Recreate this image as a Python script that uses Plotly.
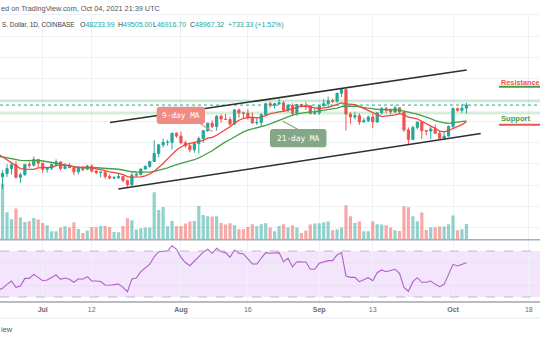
import plotly.graph_objects as go
import pandas as pd

# ---------------- data (Jun 21 2021 .. Oct 04 2021, daily) ----------------
dates = pd.date_range("2021-06-21", "2021-10-04", freq="D")

opens = [35600, 31700, 32500, 33700, 34600, 31600, 32200, 34700, 34500, 35900,
         35000, 33500, 33800, 34700, 35300, 33700, 34200, 33900, 32900, 33800,
         33500, 34300, 33100, 32700, 32800, 31800, 31400, 31500, 31800, 30800,
         29800, 32100, 32300, 33600, 34200, 35400, 37300, 39400, 40000, 40010,
         42200, 41500, 39900, 39200, 38200, 39700, 40900, 42800, 44600, 43800,
         46300, 45600, 45500, 44400, 47800, 47100, 47000, 46000, 44700, 44800,
         46700, 49300, 48900, 49300, 49500, 47700, 48900, 47000, 49100, 48900,
         48800, 46900, 47100, 48800, 49300, 50000, 49900, 51800, 52700, 46800,
         46100, 46400, 44900, 45200, 46100, 44900, 47100, 48100, 47700, 47300,
         48300, 47300, 43000, 40700, 43600, 44900, 42800, 42700, 43200, 42200,
         41000, 41500, 43800, 48100, 47700, 48233.99]
highs = [35700, 33300, 34800, 35200, 35500, 32700, 34700, 35300, 36600, 36000,
         35000, 33900, 34900, 35900, 35300, 35000, 35000, 33900, 34100, 34300,
         34600, 34700, 33300, 33100, 33200, 32300, 31900, 32400, 31900, 31000,
         32800, 32600, 33600, 34500, 35400, 40500, 39500, 40900, 40600, 42300,
         42400, 42600, 40400, 39800, 39900, 41400, 43000, 44700, 45300, 46500,
         46700, 46800, 46200, 48000, 48100, 47400, 48000, 47200, 46000, 47000,
         49400, 49800, 49500, 50500, 49900, 49300, 49400, 49200, 49300, 49700,
         48900, 48200, 49000, 50400, 51000, 50500, 51900, 52800, 52920, 47300,
         47400, 47000, 45900, 46400, 46900, 47300, 48500, 48500, 48200, 48800,
         48400, 47400, 43600, 44000, 44900, 45000, 42900, 43900, 44300, 42800,
         42600, 44100, 48400, 48400, 49300, 49505.00]
lows = [31300, 28800, 31700, 32300, 31300, 30200, 32000, 33900, 34200, 34000,
        32700, 32700, 33300, 34400, 33200, 33500, 33800, 32100, 32300, 33000,
        33400, 32700, 32300, 31600, 31200, 31100, 31200, 31200, 30400, 29300,
        29500, 31700, 32000, 33400, 33900, 35300, 36400, 38800, 39200, 38300,
        41100, 39500, 38700, 37600, 37500, 37300, 39900, 42500, 43400, 42800,
        44700, 45400, 43800, 44200, 45900, 45600, 45500, 44400, 44200, 43900,
        46600, 48300, 48100, 49000, 47600, 47200, 46300, 46400, 48400, 47800,
        46900, 46700, 46600, 48600, 48400, 49500, 49500, 50900, 42800, 44400,
        45500, 44200, 44800, 44800, 43400, 44700, 46700, 47000, 46800, 47100,
        46900, 42500, 39600, 40600, 43100, 40800, 41700, 40800, 42100, 40900,
        40800, 41400, 43300, 47400, 47100, 46916.70]
closes = [31700, 32500, 33700, 34600, 31600, 32200, 34700, 34500, 35900, 35000,
          33500, 33800, 34700, 35300, 33700, 34200, 33900, 32900, 33800, 33500,
          34300, 33100, 32700, 32800, 31800, 31400, 31500, 31800, 30800, 29800,
          32100, 32300, 33600, 34200, 35400, 37300, 39400, 40000, 40010, 42200,
          41500, 39900, 39200, 38200, 39700, 40900, 42800, 44600, 43800, 46300,
          45600, 45500, 44400, 47800, 47100, 47000, 46000, 44700, 44800, 46700,
          49300, 48900, 49300, 49500, 47700, 48900, 47000, 49100, 48900, 48800,
          46900, 47100, 48800, 49300, 50000, 49900, 51800, 52700, 46800, 46100,
          46400, 44900, 45200, 46100, 44900, 47100, 48100, 47700, 47300, 48300,
          47300, 43000, 40700, 43600, 44900, 42800, 42700, 43200, 42200, 41000,
          41500, 43800, 48100, 47700, 48200, 48967.32]
# closes Jun 01 .. Jun 20 (off-screen, only feed the moving averages)
closes_before = [36700, 37600, 39200, 36900, 35500, 35800, 33600, 33400, 37400, 36700,
                 37300, 35600, 39000, 40500, 40200, 38300, 38100, 35800, 35500, 35600]
volumes = [20000, 28000, 13650, 10150, 15500, 11000, 8800, 9150, 10800, 10000,
           8300, 7150, 4150, 4150, 6000, 6650, 6000, 8650, 5300, 3300,
           4500, 6300, 6150, 6800, 6800, 6300, 3800, 3650, 6800, 10650,
           9650, 5000, 5650, 6000, 6000, 23650, 14800, 16300, 6650, 9300,
           6650, 6800, 8000, 9000, 9300, 16800, 12300, 11650, 11500, 11650,
           8300, 7500, 8150, 7150, 5150, 5150, 6300, 7650, 6650, 7650,
           8150, 6000, 4150, 6800, 7650, 6000, 7150, 6000, 3300, 4500,
           7500, 8000, 8150, 8650, 9000, 4650, 5150, 6000, 17150, 11650,
           8300, 9000, 4150, 4150, 9150, 7650, 7500, 7150, 6000, 4650,
           4300, 16650, 16150, 11650, 9150, 13500, 4800, 6150, 6150, 6500,
           6500, 7650, 12000, 4650, 5150, 7800]
rsi = [36, 37.5, 41, 43.9, 38.4, 39.6, 46.2, 46.2, 49.7, 47.1,
       44.2, 44.8, 47, 49.1, 45.4, 46.5, 45.4, 42.8, 45.9, 45.4,
       47.7, 43.9, 43.9, 43.5, 40.4, 40.2, 40.8, 41.3, 38.4, 34.6,
       45.7, 46.5, 52, 54.9, 58.5, 65, 69.4, 69.8, 70, 74.6,
       71.5, 64.5, 60, 57.2, 61, 65.7, 69, 71.5, 68, 72.3,
       69.4, 68.6, 64.5, 70.9, 68, 67.4, 63, 58.7, 58.7, 64,
       68.6, 68, 68.3, 68.6, 60.7, 63.7, 56.3, 60.7, 60.5, 60.4,
       54.1, 54.1, 59.3, 60.5, 61.6, 61.6, 66.5, 68.6, 48.3, 47.1,
       47.1, 43.3, 44.8, 46.8, 44.2, 51.1, 53.5, 52, 53, 54.1,
       50.6, 38.4, 35, 43.3, 46.8, 42.8, 42.8, 43.9, 41, 39,
       41, 49.1, 58.4, 57, 58.3, 59.8]

tick_dates = ["2021-07-01", "2021-07-12", "2021-08-01", "2021-08-16",
              "2021-09-01", "2021-09-13", "2021-10-01", "2021-10-18"]
tick_text = ["<b>Jul</b>", "12", "<b>Aug</b>", "16", "<b>Sep</b>", "13", "<b>Oct</b>", "18"]

# drawn trend channel (date, price) and horizontal levels
channel_upper = [("2021-07-16 02:10", 44760), ("2021-10-04 01:40", 57384)]
channel_lower = [("2021-07-17 22:50", 28752), ("2021-10-07 05:00", 42120)]
resistance_level = 49950
support_level = 47060
last_price = 48967.32

# ---------------- derived ----------------
all_closes = pd.Series(closes_before + closes)
n_before = len(closes_before)
ma9 = all_closes.rolling(9).mean().iloc[n_before:].tolist()
ma21 = all_closes.rolling(21).mean().iloc[n_before:].tolist()

UP, DOWN = "#26a69a", "#ef5350"
vol_colors = ["rgba(38,166,154,0.5)" if c >= o else "rgba(239,83,80,0.5)"
              for o, c in zip(opens, closes)]

W, H = 540, 340
def X(px): return px / W
def Y(py): return 1 - py / H

FONT = "Liberation Sans"
x_range = ["2021-06-21 10:13", "2021-10-20 12:00"]
price_dom = [Y(239.5), Y(14.5)]
rsi_dom = [Y(302), Y(240.5)]

fig = go.Figure()
fig.add_trace(go.Bar(x=dates, y=volumes, marker_color=vol_colors, marker_line_width=0,
                     width=0.72 * 86400000, xaxis="x", yaxis="y", hoverinfo="skip"))
fig.add_trace(go.Candlestick(x=dates, open=opens, high=highs, low=lows, close=closes,
                             increasing=dict(line=dict(color=UP, width=1), fillcolor=UP),
                             decreasing=dict(line=dict(color=DOWN, width=1), fillcolor=DOWN),
                             whiskerwidth=0, xaxis="x", yaxis="y2"))
fig.add_trace(go.Scatter(x=dates, y=ma21, mode="lines", line=dict(color="#43a047", width=1.3),
                         xaxis="x", yaxis="y2"))
fig.add_trace(go.Scatter(x=dates, y=ma9, mode="lines", line=dict(color="#f44336", width=1.3),
                         xaxis="x", yaxis="y2"))
fig.add_trace(go.Scatter(x=dates, y=rsi, mode="lines", line=dict(color="#b35fcb", width=1.1),
                         xaxis="x2", yaxis="y3"))

shapes = []
# RSI band and its dashed bounds
shapes.append(dict(type="rect", xref="paper", yref="y3", x0=0, x1=1, y0=30, y1=70,
                   fillcolor="#f3e6fc", line=dict(width=0), layer="below"))
for lv in (70, 30):
    shapes.append(dict(type="line", xref="paper", yref="y3", x0=0, x1=1, y0=lv, y1=lv,
                       line=dict(color="#c4b3d3", width=1, dash="dash")))
# horizontal levels
for lv in (resistance_level, support_level):
    shapes.append(dict(type="line", xref="paper", yref="y2", x0=0, x1=1, y0=lv, y1=lv,
                       line=dict(color="rgba(76,175,80,0.22)", width=3)))
shapes.append(dict(type="line", xref="paper", yref="y2", x0=0, x1=1, y0=last_price, y1=last_price,
                   line=dict(color=UP, width=1, dash="dot")))
# channel
for (a, b) in (channel_upper, channel_lower):
    shapes.append(dict(type="line", xref="x", yref="y2", x0=a[0], y0=a[1], x1=b[0], y1=b[1],
                       line=dict(color="#2f2f2f", width=1.5)))
# pane borders
shapes.append(dict(type="line", xref="paper", yref="paper", x0=0, x1=1, y0=Y(239.8), y1=Y(239.8),
                   line=dict(color="#a9acb4", width=1.6)))
shapes.append(dict(type="line", xref="paper", yref="paper", x0=0, x1=1, y0=Y(302), y1=Y(302),
                   line=dict(color="#a3a6ae", width=1.6)))
shapes.append(dict(type="line", xref="paper", yref="paper", x0=0, x1=1, y0=Y(318), y1=Y(318),
                   line=dict(color="#eef0f4", width=1.5)))
shapes.append(dict(type="line", xref="paper", yref="paper", x0=0, x1=1, y0=Y(14.5), y1=Y(14.5),
                   line=dict(color="#eef1f6", width=1)))
# resistance / support marker lines
shapes.append(dict(type="line", xref="paper", yref="paper", x0=X(499), x1=1, y0=Y(86.7), y1=Y(86.7),
                   line=dict(color="#43a047", width=2)))
shapes.append(dict(type="line", xref="paper", yref="paper", x0=X(499), x1=1, y0=Y(124.7), y1=Y(124.7),
                   line=dict(color="#ef5350", width=2)))

def rrect(x0, y0, x1, y1, r, color):
    p = (f"M {X(x0+r)},{Y(y0)} L {X(x1-r)},{Y(y0)} Q {X(x1)},{Y(y0)} {X(x1)},{Y(y0+r)} "
         f"L {X(x1)},{Y(y1-r)} Q {X(x1)},{Y(y1)} {X(x1-r)},{Y(y1)} "
         f"L {X(x0+r)},{Y(y1)} Q {X(x0)},{Y(y1)} {X(x0)},{Y(y1-r)} "
         f"L {X(x0)},{Y(y0+r)} Q {X(x0)},{Y(y0)} {X(x0+r)},{Y(y0)} Z")
    return dict(type="path", xref="paper", yref="paper", path=p, fillcolor=color,
                line=dict(width=0))

C9, C21 = "#f08b84", "#84a887"
shapes.append(dict(type="line", xref="paper", yref="paper", x0=X(199), y0=Y(123), x1=X(212.5), y1=Y(131.5),
                   line=dict(color=C9, width=1.2)))
shapes.append(rrect(156.7, 106.7, 205, 124, 3, C9))
shapes.append(dict(type="line", xref="paper", yref="paper", x0=X(299), y0=Y(130), x1=X(282.5), y1=Y(121),
                   line=dict(color=C21, width=1.2)))
shapes.append(rrect(270, 129, 326.5, 147.3, 3, C21))

annotations = []
def txt(x, y, s, size=7, color="#4a4a4a", anchor="left", family=FONT):
    annotations.append(dict(x=X(x), y=Y(y), xref="paper", yref="paper", text=s, showarrow=False,
                            xanchor=anchor, yanchor="middle", borderpad=0,
                            font=dict(family=family, size=size, color=color)))

# texts as visible in the (cropped) reference
txt(0, 8, "ed on TradingView.com, Oct 04, 2021 21:39 UTC", size=7.3, color="#50535e")
txt(0.5, 25, "S. Dollar, 1D, COINBASE", size=6.4, color="#3a3d46")
TEAL = "#26a69a"
for x, lab, val in ((78.7, "O", "48233.99"), (116.7, "H", "49505.00"),
                    (152.3, "L", "46916.70"), (189, "C", "48967.32")):
    txt(x, 25, f"{lab}<span style='color:{TEAL}'>{val}</span>", color="#3a3d46")
txt(227, 25, "+733.33", color=TEAL)
txt(254, 25, "(+1.52%)", color=TEAL)

txt(180.8, 115.5, "9-day MA", size=7.8, color="white", anchor="center", family="DejaVu Sans Mono")
txt(298.2, 138.3, "21-day MA", size=7.8, color="white", anchor="center", family="DejaVu Sans Mono")
txt(499.5, 82.3, "<b>Resistance</b>", size=7.3, color="#ef5350")
txt(499.5, 119, "<b>Support</b>", size=7.6, color="#43a047")
txt(0, 329, "iew", size=7.5, color="#50535e")

GRID = "#eef1f6"
fig.update_layout(
    width=W, height=H, margin=dict(l=0, r=0, t=0, b=0),
    paper_bgcolor="white", plot_bgcolor="white", showlegend=False,
    font=dict(family=FONT),
    xaxis=dict(domain=[0, 1], anchor="y", type="date", range=x_range, tickvals=tick_dates,
               showticklabels=False, showgrid=True, gridcolor=GRID, zeroline=False,
               rangeslider=dict(visible=False), fixedrange=True),
    yaxis=dict(domain=price_dom, range=[0, 112750], showgrid=False, showticklabels=False,
               zeroline=False),
    yaxis2=dict(overlaying="y", anchor="x", range=[16632, 70752], showgrid=True, gridcolor=GRID,
                tick0=50136, dtick=5112, showticklabels=False, zeroline=False),
    xaxis2=dict(domain=[0, 1], anchor="y3", type="date", range=x_range, tickvals=tick_dates,
                ticktext=tick_text, showgrid=True, gridcolor=GRID, zeroline=False, ticks="",
                tickfont=dict(family=FONT, size=7, color="#6a6d78"), ticklabelstandoff=2),
    yaxis3=dict(domain=rsi_dom, range=[25.65, 79.13], tickvals=[40, 60], showgrid=True,
                gridcolor="#e9e0f2", showticklabels=False, zeroline=False),
    shapes=shapes, annotations=annotations,
)

fig.write_html("out.html", config={"displayModeBar": False})
